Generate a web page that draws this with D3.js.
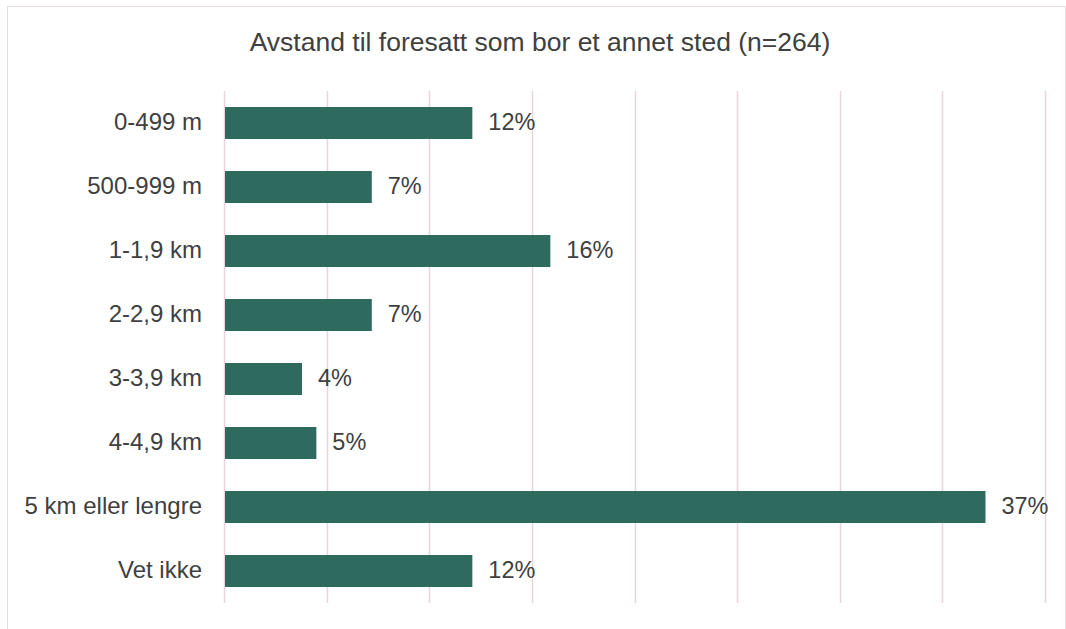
<!DOCTYPE html>
<html>
<head>
<meta charset="utf-8">
<script src="https://cdn.jsdelivr.net/npm/d3@7"></script>
<style>
  body { margin: 0; background: #fff; }
  text { font-family: "Liberation Sans", Arial, sans-serif; fill: #404040; }
</style>
</head>
<body>
<div id="chart"></div>
<script>
// Data
const title = "Avstand til foresatt som bor et annet sted (n=264)";
const categories = ["0-499 m", "500-999 m", "1-1,9 km", "2-2,9 km", "3-3,9 km", "4-4,9 km", "5 km eller lengre", "Vet ikke"];
const values = [12.1, 7.2, 15.9, 7.2, 3.8, 4.5, 37.1, 12.1]; // percent
const ticks = [0, 5, 10, 15, 20, 25, 30, 35, 40];

const width = 1066;
const height = 629;
const marginTop = 91;
const marginBottom = 26;
const marginLeft = 224;

const svg = d3.select("#chart")
    .append("svg")
    .attr("width", width)
    .attr("height", height);

// chart border
svg.append("rect")
    .attr("x", 7.5)
    .attr("y", 6.5)
    .attr("width", 1058)
    .attr("height", 640)
    .attr("fill", "none")
    .attr("stroke", "#e9dde1")
    .attr("stroke-width", 1);

// Scales
const x = d3.scaleLinear()
    .domain([0, 40])
    .range([marginLeft, 1045]);

const y = d3.scaleBand()
    .domain(categories)
    .range([marginTop, height - marginBottom])
    .paddingInner(0.5)
    .paddingOuter(0.25);

// Gridlines
svg.append("g")
    .selectAll("line")
    .data(ticks)
    .join("line")
    .attr("x1", d => Math.round(x(d)) + 0.5)
    .attr("x2", d => Math.round(x(d)) + 0.5)
    .attr("y1", marginTop)
    .attr("y2", height - marginBottom)
    .attr("stroke", "#e6d6dc")
    .attr("stroke-width", 1.5);

// Bars
svg.append("g")
    .selectAll("rect")
    .data(values)
    .join("rect")
    .attr("x", x(0) + 1)
    .attr("y", (d, i) => y(categories[i]))
    .attr("height", y.bandwidth())
    .attr("width", d => x(d) - x(0) - 1)
    .attr("fill", "#2e6b5e");

// Value labels
svg.append("g")
    .selectAll("text")
    .data(values)
    .join("text")
    .attr("x", d => x(d) + 16)
    .attr("y", (d, i) => y(categories[i]) + y.bandwidth() / 2)
    .attr("dy", "0.29em")
    .style("font-size", "23.5px")
    .text(d => Math.round(d) + "%");

// Category labels
svg.append("g")
    .attr("transform", `translate(${marginLeft},0)`)
    .call(d3.axisLeft(y).tickSize(0).tickPadding(22))
    .call(g => g.select(".domain").remove())
    .call(g => g.selectAll("text")
        .attr("dy", "0.29em")
        .style("font-size", "24px")
        .style("font-family", '"Liberation Sans", Arial, sans-serif')
        .attr("fill", "#404040"));

// Title
svg.append("text")
    .attr("x", 540)
    .attr("y", 51)
    .attr("text-anchor", "middle")
    .style("font-size", "26.5px")
    .text(title);
</script>
</body>
</html>
